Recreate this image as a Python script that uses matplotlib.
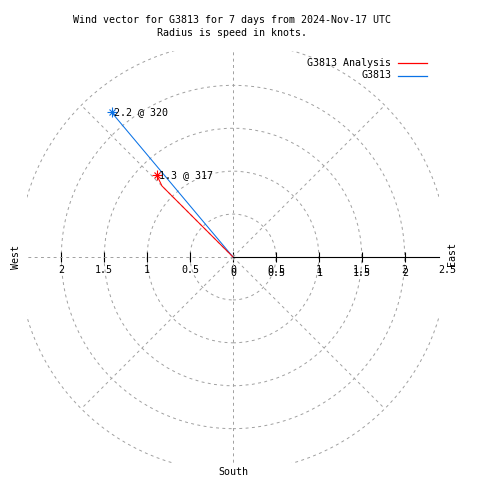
import numpy as np
import matplotlib
matplotlib.use("Agg")
import matplotlib.pyplot as plt
from matplotlib.patches import Circle
from matplotlib.lines import Line2D

# wind vectors: speed in knots, direction in degrees (clockwise from north)
station = "G3813"
analysis_speed = [0.0, 1.17, 1.3]
analysis_dir = [315, 315, 317]
obs_speed = [0.0, 2.2]
obs_dir = [320, 320]

ring_radii = [0.5, 1.0, 1.5, 2.0, 2.5]
spoke_angles = [0, 45, 90, 135, 180, 225, 270, 315]
r_ticks = [-2, -1.5, -1, -0.5, 0, 0.5, 1, 1.5, 2]
r_ticklabels = ["2", "1.5", "1", "0.5", "0", "0.5", "1", "1.5", "2"]

title_lines = ["Wind vector for G3813 for 7 days from 2024-Nov-17 UTC",
               "Radius is speed in knots."]

RED = "#ff0000"
BLUE = "#0a72e6"
GRID = "#a0a0a0"

plt.rcParams["font.family"] = ["DejaVu Sans Mono"]
plt.rcParams["font.size"] = 7.2


def to_xy(speed, direction):
    th = np.radians(direction)
    s = np.asarray(speed)
    return s * np.sin(th), s * np.cos(th)


fig = plt.figure(figsize=(4.8, 4.8), dpi=100)
ax = fig.add_axes([27 / 480, 17 / 480, 412 / 480, 412 / 480])
ax.set_xlim(-2.4, 2.4)
ax.set_ylim(-2.4, 2.4)
ax.set_aspect("equal")

# polar grid
dash = dict(color=GRID, lw=0.7, ls=(0, (3, 3.5)))
for r in ring_radii:
    ax.add_patch(Circle((0, 0), r, fill=False, **dash))
for a in spoke_angles:
    gx, gy = to_xy([0, 2.5], [a, a])
    ax.plot(gx, gy, **dash)

# radius axis along the x axis
for side in ["top", "left", "right"]:
    ax.spines[side].set_visible(False)
ax.spines["bottom"].set_position(("data", 0))
ax.spines["bottom"].set_bounds(0, 2.4)
ax.spines["bottom"].set_linewidth(0.8)
ax.set_yticks([])
ax.set_xticks(r_ticks)
ax.set_xticklabels(r_ticklabels)
ax.tick_params(axis="x", direction="inout", length=6.5, width=0.8, pad=2.5)
# second (slightly offset) set of labels on the right side
for v, lab in zip(r_ticks, r_ticklabels):
    if v >= 0:
        ax.annotate(lab, (v, 0), xytext=(0.5, -16), textcoords="offset pixels",
                    ha="center", va="center", annotation_clip=False)
ax.annotate("2.5", (2.5, 0), xytext=(0, -13), textcoords="offset pixels",
            ha="center", va="center", annotation_clip=False)

# vectors
bx, by = to_xy(obs_speed, obs_dir)
rx, ry = to_xy(analysis_speed, analysis_dir)
ax.plot(bx, by, color=BLUE, lw=0.75)
ax.plot(rx, ry, color=RED, lw=0.75)
for xs, ys, col, sp, dr in [(bx, by, BLUE, obs_speed, obs_dir),
                            (rx, ry, RED, analysis_speed, analysis_dir)]:
    ax.plot(xs[-1], ys[-1], marker="+", ms=7, mew=0.8, color=col)
    ax.plot(xs[-1], ys[-1], marker="x", ms=5, mew=0.8, color=col)
    ax.annotate(f"{sp[-1]:.1f} @ {dr[-1]}", (xs[-1], ys[-1]), xytext=(2, 0),
                textcoords="offset pixels", ha="left", va="center")

# compass labels
ax.annotate("West", (-2.5, 0), xytext=(-2, 0), textcoords="offset pixels",
            rotation=90, ha="center", va="center", annotation_clip=False)
ax.annotate("East", (2.5, 0), xytext=(4, 3), textcoords="offset pixels",
            rotation=90, ha="center", va="center", annotation_clip=False)
ax.annotate("South", (0, -2.5), xytext=(0, 0), textcoords="offset pixels",
            ha="center", va="center", annotation_clip=False)

# title
fig.text(232 / 480, 1 - 20 / 480, title_lines[0], ha="center", va="center")
fig.text(232 / 480, 1 - 33 / 480, title_lines[1], ha="center", va="center")

# legend
for i, (lab, col) in enumerate([(f"{station} Analysis", RED), (station, BLUE)]):
    yy = 1 - (63 + 12.5 * i) / 480
    fig.text(391 / 480, yy, lab, ha="right", va="center")
    fig.add_artist(Line2D([398 / 480, 427 / 480], [yy, yy], color=col, lw=0.9))

fig.savefig("out.png", dpi=100)
